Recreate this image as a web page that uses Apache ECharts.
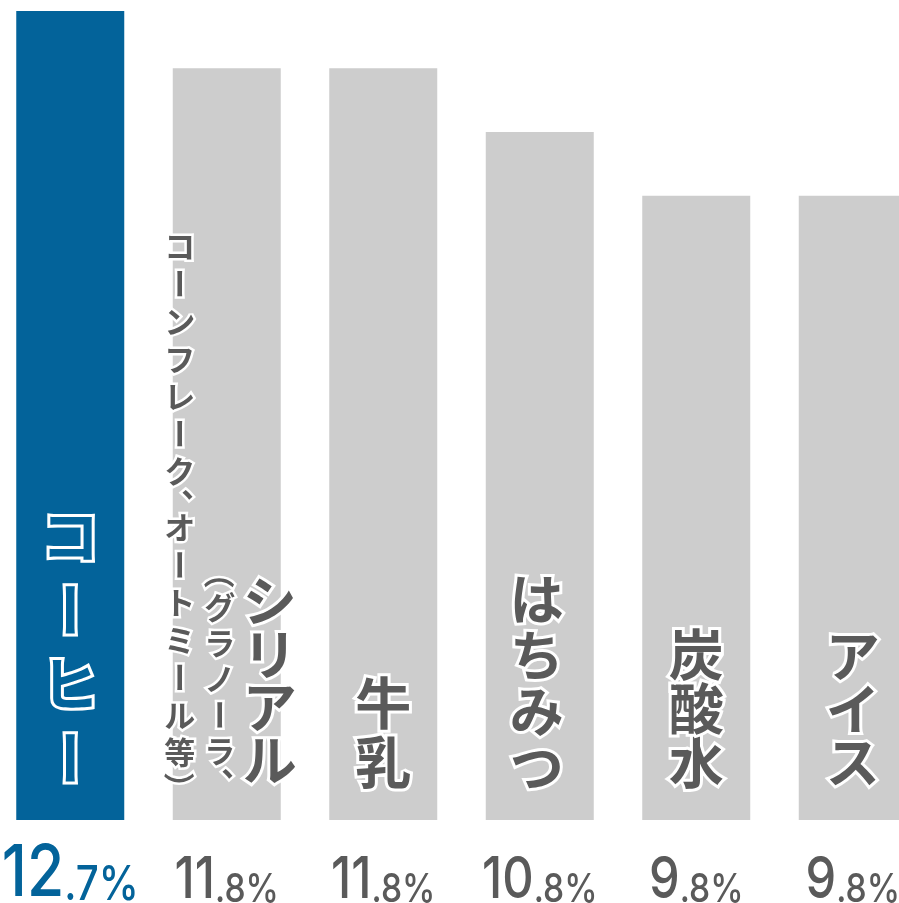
<!DOCTYPE html>
<html>
<head>
<meta charset="utf-8">
<script src="https://cdn.jsdelivr.net/npm/echarts@6/dist/echarts.min.js"></script>
<style>
  html, body { margin: 0; padding: 0; background: #fff; }
  #chart { width: 899px; height: 903px; }
</style>
</head>
<body>
<div id="chart"></div>
<script>
// Items and their shares (%)
const categories = ['コーヒー', 'シリアル（グラノーラ、コーンフレーク、オートミール等）', '牛乳', 'はちみつ', '炭酸水', 'アイス'];
const values = [12.7, 11.8, 11.8, 10.8, 9.8, 9.8];

const BLUE = '#03639a';
const GRAY_BAR = '#cdcdcd';
const GRAY_TEXT = '#5a5a5a';
const JP_FONT = '"Noto Sans CJK JP", "Noto Sans CJK SC", sans-serif';
const NUM_FONT = 'Inter, Roboto, sans-serif';

// Vertical label layout per bar: how the name is broken into columns,
// and where each column sits relative to the bar's base.
// cut: number of characters in the column; dx: column centre offset from bar centre;
// end: offset of the column's bottom from the bar base; size: font size; step: character advance.
const labelLayout = [
  [{ cut: 4, dx: 0, end: -25, size: 58, step: 74 }],
  [
    { cut: 4, dx: 43, end: -33, size: 54, step: 53 },
    { cut: 7, dx: -7, end: -33, size: 31, step: 36 },
    { cut: 16, dx: -47, end: -30, size: 31, step: 37.5 }
  ],
  [{ cut: 2, dx: 0, end: -29, size: 56, step: 59 }],
  [{ cut: 4, dx: -3, end: -25, size: 54, step: 56 }],
  [{ cut: 3, dx: 0, end: -31, size: 55, step: 54 }],
  [{ cut: 3, dx: 0, end: -31, size: 54, step: 53 }]
];

const HALF = new Set(['（', '）', '、']);
const ROTATE = new Set(['ー', '（', '）']);

function columnChildren(text, col, cx, baseY, fill) {
  const out = [];
  let bottom = baseY + col.end;
  const chars = Array.from(text);
  for (let k = chars.length - 1; k >= 0; k--) {
    const ch = chars[k];
    const adv = HALF.has(ch) ? col.step * 0.5 : col.step;
    let x = cx + col.dx;
    let y = bottom - adv / 2;
    const s = col.size;
    // shift glyphs so they sit like vertical forms
    if (ch === '、') { x += 0.55 * s; y -= 0.45 * s; }
    if (ch === '（') { y -= 0.22 * s; }
    if (ch === '）') { y += 0.22 * s; }
    out.push({
      type: 'text',
      x: x,
      y: y,
      rotation: ROTATE.has(ch) ? -Math.PI / 2 : 0,
      style: {
        text: ch,
        x: 0,
        y: 0,
        align: 'center',
        verticalAlign: 'middle',
        fontSize: s,
        fontWeight: 'bold',
        fontFamily: JP_FONT,
        fill: fill,
        stroke: '#ffffff',
        lineWidth: s > 40 ? 6 : 5,
        lineJoin: 'round'
      }
    });
    bottom -= adv;
  }
  return out;
}

// Value text under each bar: large integer part, smaller decimals and percent sign
function valueText(i, cx, baseY) {
  const parts = values[i].toFixed(1).split('.');
  const first = i === 0;
  const color = first ? BLUE : GRAY_TEXT;
  return {
    type: 'text',
    x: cx,
    y: baseY + 90,
    scaleX: 0.84,
    style: {
      text: '{big|' + parts[0] + '}{small|.' + parts[1] + '%}',
      x: 0,
      y: 0,
      align: 'center',
      verticalAlign: 'bottom',
      rich: {
        big: { fontSize: first ? 72 : 58, fontWeight: 500, fontFamily: NUM_FONT, fill: color, verticalAlign: 'bottom', lineHeight: 80 },
        small: { fontSize: first ? 48 : 40, fontWeight: 500, fontFamily: NUM_FONT, fill: color, verticalAlign: 'bottom', lineHeight: 80 }
      }
    }
  };
}

function renderLabel(params, api) {
  const i = params.dataIndex;
  const base = api.coord([api.value(0), 0]);
  const name = categories[i];
  const chars = Array.from(name);
  const fill = i === 0 ? BLUE : GRAY_TEXT;
  let pos = 0;
  let children = [];
  labelLayout[i].forEach(col => {
    const part = chars.slice(pos, pos + col.cut).join('');
    pos += col.cut;
    children = children.concat(columnChildren(part, col, base[0], base[1], fill));
  });
  children.push(valueText(i, base[0], base[1]));
  return { type: 'group', children: children };
}

const chart = echarts.init(document.getElementById('chart'), null, { renderer: 'canvas' });

chart.setOption({
  animation: false,
  backgroundColor: '#ffffff',
  grid: { left: -8, right: -32, top: 11, bottom: 83, containLabel: false, outerBoundsMode: 'none' },
  xAxis: {
    type: 'category',
    data: categories,
    axisLine: { show: false },
    axisTick: { show: false },
    axisLabel: { show: false }
  },
  yAxis: {
    type: 'value',
    min: 0,
    max: 12.7,
    show: false,
    splitLine: { show: false }
  },
  series: [
    {
      type: 'bar',
      data: values.map((v, i) => ({
        value: v,
        itemStyle: { color: i === 0 ? BLUE : GRAY_BAR }
      })),
      barWidth: 108,
      silent: true
    },
    {
      type: 'custom',
      data: values.map((v, i) => [i, v]),
      renderItem: renderLabel,
      clip: false,
      z: 10,
      silent: true
    }
  ]
});
</script>
</body>
</html>
